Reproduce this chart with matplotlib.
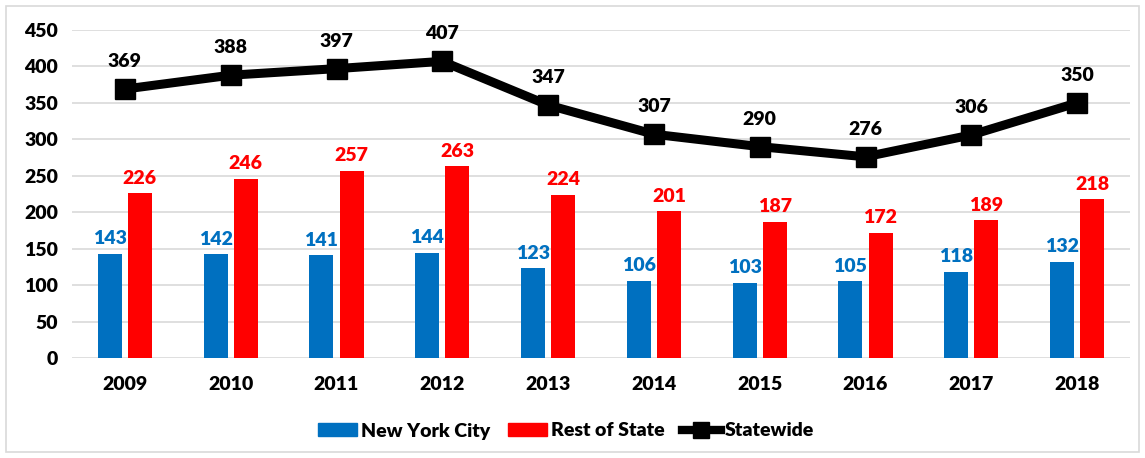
import numpy as np
import matplotlib.pyplot as plt
from matplotlib.lines import Line2D
from matplotlib.patches import Patch, Rectangle

plt.rcParams['font.family'] = ['Lato', 'DejaVu Sans']
plt.rcParams['font.weight'] = 'heavy'

years = ['2009', '2010', '2011', '2012', '2013', '2014', '2015', '2016', '2017', '2018']
nyc = [143, 142, 141, 144, 123, 106, 103, 105, 118, 132]
rest = [226, 246, 257, 263, 224, 201, 187, 172, 189, 218]
statewide = [369, 388, 397, 407, 347, 307, 290, 276, 306, 350]

blue = '#0070C0'
red = '#FF0000'
fs = 14

fig = plt.figure(figsize=(11.45, 4.58), dpi=100)
ax = fig.add_axes([72 / 1145, 1 - 358 / 458, (1130 - 72) / 1145, 328 / 458])

x = np.arange(len(years))
w = 0.227
off = 0.142
ax.bar(x - off, nyc, w, color=blue, zorder=2)
ax.bar(x + off, rest, w, color=red, zorder=2)
ax.plot(x, statewide, color='black', lw=6.5, marker='s', ms=15, zorder=3)

for i in range(len(years)):
    ax.text(x[i] - off, nyc[i] + 9, str(nyc[i]), color=blue, ha='center', va='bottom',
            fontsize=fs, fontweight='heavy')
    ax.text(x[i] + off, rest[i] + 9, str(rest[i]), color=red, ha='center', va='bottom',
            fontsize=fs, fontweight='heavy')
    ax.text(x[i], statewide[i] + 26, str(statewide[i]), color='black', ha='center', va='bottom',
            fontsize=fs, fontweight='heavy')

ax.set_xlim(-0.5, len(years) - 0.5)
ax.set_ylim(0, 450)
ax.set_yticks(range(0, 451, 50))
ax.set_xticks(x)
ax.set_xticklabels(years)
ax.tick_params(length=0, labelsize=fs, pad=10)
ax.tick_params(axis='x', pad=13)
for lab in ax.get_xticklabels() + ax.get_yticklabels():
    lab.set_fontweight('heavy')
ax.yaxis.grid(True, color='#D9D9D9', lw=1.2, zorder=0)
ax.set_axisbelow(True)
for s in ax.spines.values():
    s.set_visible(False)

handles = [Patch(color=blue, label='New York City'),
           Patch(color=red, label='Rest of State'),
           Line2D([0], [0], color='black', lw=6, marker='s', ms=11, label='Statewide')]
fig.legend(handles=handles, loc='center', bbox_to_anchor=(566 / 1145, 1 - 431 / 458), ncol=3,
           frameon=False, prop={'weight': 'heavy', 'size': fs}, handlelength=2.0,
           handleheight=0.6, columnspacing=0.9, handletextpad=0.2)

fig.patches.append(Rectangle((6 / 1145, 6 / 458), 1133 / 1145, 446 / 458, transform=fig.transFigure,
                             fill=False, edgecolor='#D9D9D9', lw=1.2))

fig.savefig('out.png', dpi=100)
